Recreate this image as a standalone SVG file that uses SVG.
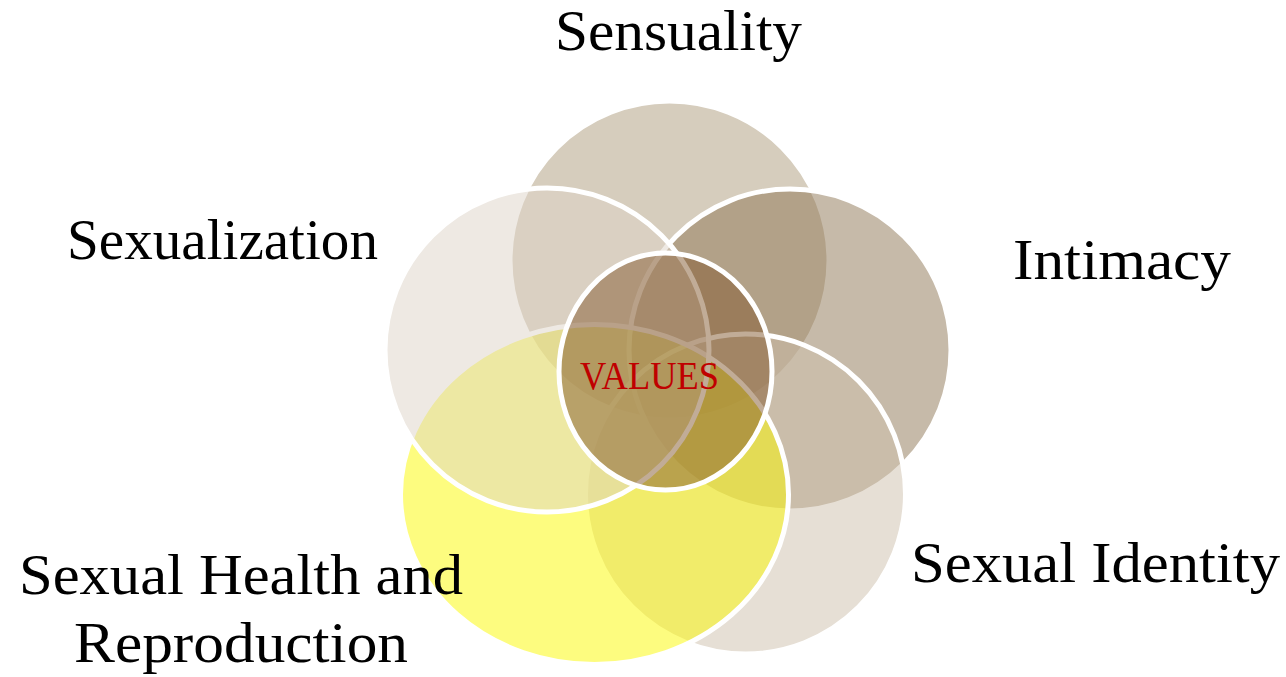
<svg xmlns="http://www.w3.org/2000/svg" width="1286" height="677" viewBox="0 0 1286 677">
  <style>
    .petal { stroke: #ffffff; stroke-width: 5; fill-opacity: 0.5; }
    .label { font-family: "Liberation Serif", "Times New Roman", serif; font-size: 57px; fill: #000000; }
    .core-label { font-family: "Liberation Serif", "Times New Roman", serif; font-size: 40px; fill: #c00000; }
  </style>
  <rect width="1286" height="677" fill="#ffffff"/>

  <!-- outer petals, drawn back to front -->
  <g id="sensuality">
    <circle class="petal" cx="669.5" cy="260.5" r="159.5" fill="#ad9b7b"/>
    <text class="label" x="555" y="50" textLength="247" lengthAdjust="spacingAndGlyphs">Sensuality</text>
  </g>
  <g id="intimacy">
    <circle class="petal" cx="790" cy="350" r="161" fill="#8e7554"/>
    <text class="label" x="1013" y="279" textLength="218" lengthAdjust="spacingAndGlyphs">Intimacy</text>
  </g>
  <g id="sexual-identity">
    <circle class="petal" cx="745.5" cy="494" r="160" fill="#cdbfab"/>
    <text class="label" x="911" y="582" textLength="369" lengthAdjust="spacingAndGlyphs">Sexual Identity</text>
  </g>
  <g id="sexual-health">
    <ellipse class="petal" cx="594.5" cy="494.5" rx="194" ry="170" fill="#fbf900"/>
    <text class="label" x="19" y="594" textLength="444" lengthAdjust="spacingAndGlyphs">Sexual Health and</text>
    <text class="label" x="74" y="662" textLength="334" lengthAdjust="spacingAndGlyphs">Reproduction</text>
  </g>
  <g id="sexualization">
    <circle class="petal" cx="547" cy="350" r="162" fill="#ddd3c8"/>
    <text class="label" x="67" y="259" textLength="311" lengthAdjust="spacingAndGlyphs">Sexualization</text>
  </g>

  <!-- shared core -->
  <g id="values">
    <ellipse class="petal" cx="665.5" cy="371.5" rx="106.5" ry="118.5" fill="#83592f"/>
    <text class="core-label" x="580" y="389" textLength="139" lengthAdjust="spacingAndGlyphs">VALUES</text>
  </g>
</svg>
